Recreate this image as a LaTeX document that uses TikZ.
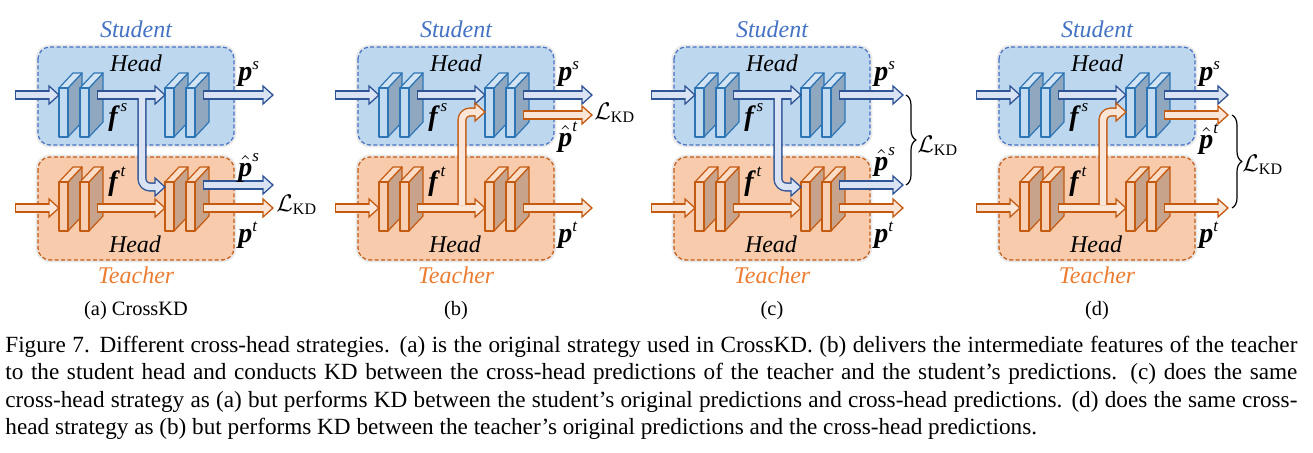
\documentclass[tikz,border=0pt]{standalone}
\usepackage{amsmath}
\usepackage{fontspec}
\setmainfont{Liberation Serif}
\usetikzlibrary{calc,decorations.pathreplacing}
\DeclareMathSizes{14}{14}{8.5}{6}
\DeclareMathSizes{13}{13}{8}{6}
\definecolor{sbox}{HTML}{BDD7EE}
\definecolor{sdash}{HTML}{4472C4}
\definecolor{tbox}{HTML}{F8CBAD}
\definecolor{tdash}{HTML}{C55A11}
\definecolor{sface}{HTML}{C3DBF0}
\definecolor{stop}{HTML}{D2E4F4}
\definecolor{sside}{HTML}{8FA8BF}
\definecolor{sline}{HTML}{2E75B6}
\definecolor{tface}{HTML}{F9CFB3}
\definecolor{ttop}{HTML}{FBDCC6}
\definecolor{tside}{HTML}{C7A38B}
\definecolor{tline}{HTML}{C55A11}
\definecolor{sdark}{HTML}{2F5597}
\definecolor{slight}{HTML}{DAE3F3}
\definecolor{tdark}{HTML}{C55A11}
\definecolor{tlight}{HTML}{FBE5D6}
\definecolor{stxt}{HTML}{4472C4}
\definecolor{ttxt}{HTML}{ED7D31}
\tikzset{
  headbox/.style={line width=0.6pt, dash pattern=on 2pt off 1.2pt, rounded corners=6pt},
  halo/.style={draw=black!9, line width=2.4pt, rounded corners=6pt},
  word/.style={font=\fontsize{12}{14}\selectfont\itshape, inner sep=0pt, anchor=base},
  sym/.style={font=\fontsize{14}{16}\selectfont, inner sep=0pt, anchor=base west},
  kd/.style={font=\fontsize{13}{15}\selectfont, inner sep=0pt, anchor=base west},
  sub/.style={font=\fontsize{10.2}{12}\selectfont, inner sep=0pt, anchor=base},
  kdbrace/.style={decorate, decoration={brace, amplitude=5pt}, line width=0.6pt},
}
\newcommand\bp{\text{\bfseries\itshape p}}
\newcommand\bff{\text{\bfseries\itshape f}}
\newcommand\tipat[2]{\filldraw[draw=#2dark, fill=#2light, line width=0.65pt, line join=miter] (#1) -- ++(-10,-9) -- ++(0,18) -- cycle;}
\newcommand\fat[3]{%
  \draw[line width=4.6pt, #1dark] (#2) -- ($(#3)+(-10,0)$);
  \tipat{#3}{#1}
  \draw[line width=3.2pt, #1light, shorten <=0.7pt] (#2) -- ($(#3)+(-9,0)$);}
\newcommand\bent[3]{%
  \draw[line width=4.6pt, #1dark, rounded corners=4pt] (#2) |- ($(#3)+(-10,0)$);
  \tipat{#3}{#1}
  \draw[line width=3.2pt, #1light, rounded corners=4pt] (#2) |- ($(#3)+(-9,0)$);}
\begin{document}
\begin{tikzpicture}[x=0.5pt, y=-0.5pt, line join=round]
\def\slab#1#2#3{%
  \filldraw[draw=#3line, fill=#3side, line width=0.6pt] (#1+9,#2) -- ++(14,-15) -- ++(0,49) -- ++(-14,15) -- cycle;
  \filldraw[draw=#3line, fill=#3top, line width=0.6pt] (#1,#2) -- ++(14,-15) -- ++(9,0) -- ++(-14,15) -- cycle;
  \filldraw[draw=#3line, fill=#3face, line width=0.6pt] (#1,#2) rectangle ++(9,49);}
\useasboundingbox (0,0) rectangle (1313,452);
\foreach \p/\o/\e/\c in {a/0/273/{(a) CrossKD}, b/320/272/{(b)}, c/636/267/{(c)}, d/961/267/{(d)}}{
  \begin{scope}[shift={(\o,0)}]
    \draw[halo] (38,47) rectangle (234,145) (38,157) rectangle (234,260);
    \filldraw[headbox, fill=sbox, draw=sdash] (38,47) rectangle (234,145);
    \filldraw[headbox, fill=tbox, draw=tdash] (38,157) rectangle (234,260);
    \node[word, stxt] (\p-stu) at (136,37) {Student};
    \node[word, ttxt] (\p-tea) at (136,283) {Teacher};
    \node[word] (\p-hs) at (136,71) {Head};
    \node[word] (\p-ht) at (135,252) {Head};
    \node[sub] (\p-cap) at (136,315) {\c};
    \foreach \x in {59,80,165,186}{\slab{\x}{88}{s}\slab{\x}{182}{t}}
    \path
    (15,95) coordinate (\p-s0) (59,95) coordinate (\p-s1)
    (97,95) coordinate (\p-s2) (165,95) coordinate (\p-s3)
    (203,95) coordinate (\p-s4) (\e,95) coordinate (\p-s5)
    (15,208) coordinate (\p-t0) (59,208) coordinate (\p-t1)
    (97,208) coordinate (\p-t2) (165,208) coordinate (\p-t3)
    (203,208) coordinate (\p-t4) (\e,208) coordinate (\p-t5)
    (142,98) coordinate (\p-sj) (142,205) coordinate (\p-tj)
    (165,112) coordinate (\p-sx) (165,187) coordinate (\p-tx)
    (203,115) coordinate (\p-so) (203,185) coordinate (\p-to)
    (\e,115) coordinate (\p-soe) (\e,185) coordinate (\p-toe);
    \fat{s}{\p-s0}{\p-s1}\fat{s}{\p-s2}{\p-s3}\fat{s}{\p-s4}{\p-s5}
    \fat{t}{\p-t0}{\p-t1}\fat{t}{\p-t2}{\p-t3}\fat{t}{\p-t4}{\p-t5}
    \node[sym] (\p-fs) at (108,125) {$\bff^{\,\text{\itshape s}}$};
    \node[sym] (\p-ft) at (108,190) {$\bff^{\,\text{\itshape t}}$};
    \node[sym] (\p-ps) at (238,80) {$\bp^{\text{\itshape s}}$};
    \node[sym] (\p-pt) at (238,242) {$\bp^{\text{\itshape t}}$};
  \end{scope}
}
\bent{s}{a-sj}{a-tx}\fat{s}{a-to}{a-toe}
\bent{t}{b-tj}{b-sx}\fat{t}{b-so}{b-soe}
\bent{s}{c-sj}{c-tx}\fat{s}{c-to}{c-toe}
\bent{t}{d-tj}{d-sx}\fat{t}{d-so}{d-soe}
\node[sym] (a-phs) at (238,176) {$\hat{\bp}^{\text{\itshape s}}$};
\node[kd] (a-kd) at (276,211) {$\mathcal{L}_{\text{KD}}$};
\node[sym] (b-pht) at (558,146) {$\hat{\bp}^{\text{\itshape t}}$};
\node[kd] (b-kd) at (594,119) {$\mathcal{L}_{\text{KD}}$};
\node[sym] (c-phs) at (874,170) {$\hat{\bp}^{\text{\itshape s}}$};
\draw[kdbrace] ($(c-s5)+(3,0)$) -- ($(c-toe)+(3,0)$);
\node[kd] (c-kd) at (917,152) {$\mathcal{L}_{\text{KD}}$};
\node[sym] (d-pht) at (1199,148) {$\hat{\bp}^{\text{\itshape t}}$};
\draw[kdbrace] ($(d-soe)+(4,0)$) -- ($(d-t5)+(4,0)$);
\node[kd] (d-kd) at (1242,171) {$\mathcal{L}_{\text{KD}}$};
\node[anchor=base west, inner sep=0pt, text width=646pt, align=justify, font=\fontsize{11.6}{13.8}\selectfont] (fig7) at (5,352) {Figure 7. Different cross-head strategies. (a) is the original strategy used in CrossKD. (b) delivers the intermediate features of the teacher\linebreak to the student head and conducts KD between the cross-head predictions of the teacher and the student's predictions. (c) does the same\linebreak cross-head strategy as (a) but performs KD between the student's original predictions and cross-head predictions. (d) does the same cross-\linebreak head strategy as (b) but performs KD between the teacher's original predictions and the cross-head predictions.};
\end{tikzpicture}
\end{document}
